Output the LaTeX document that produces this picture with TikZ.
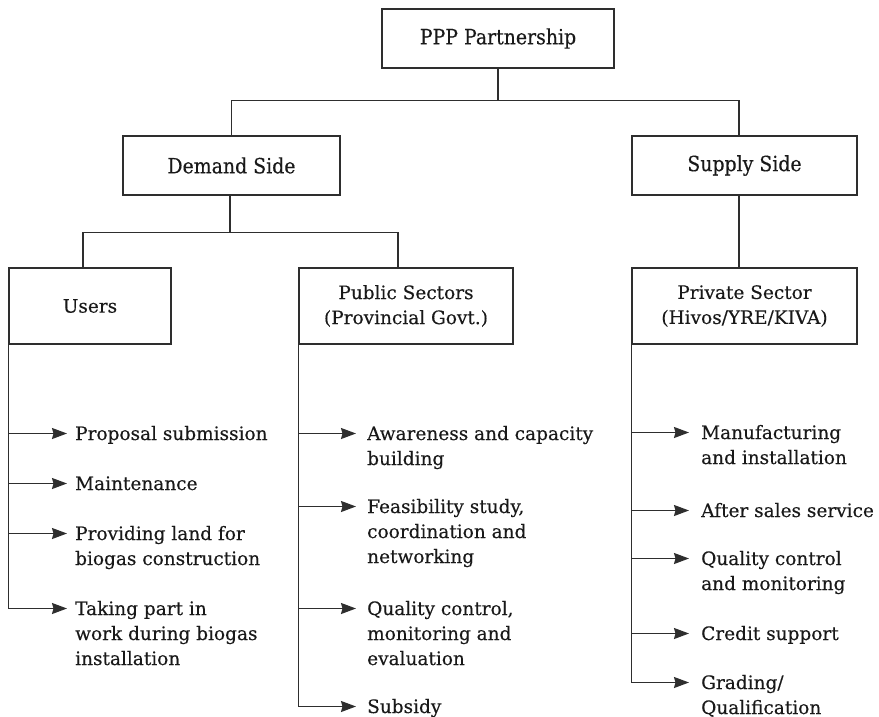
\documentclass[tikz,border=0pt]{standalone}
\usepackage{fontspec}
\setmainfont[FakeBold=0.3]{DejaVu Serif}
\newfontfamily\condfont[FakeStretch=0.9,FakeBold=0.3]{DejaVu Serif}
\usetikzlibrary{arrows.meta,calc}
\newcommand{\ml}[1]{\begin{tabular}[t]{@{}l@{}}#1\end{tabular}}
\begin{document}
\begin{tikzpicture}[x=1pt,y=-1pt,
  line/.style={draw=black!82, line width=1.4pt},
  topbox/.style={line, minimum height=59pt, inner sep=0pt, font=\condfont\fontsize{21}{25}\selectfont, text=black!90},
  subbox/.style={line, minimum height=76pt, inner sep=0pt, align=center, font=\fontsize{18.5}{25}\selectfont, text=black!90},
  item/.style={anchor=base west, inner sep=0pt, font=\fontsize{18.5}{25}\selectfont, text=black!90},
  arr/.style={line, -{Stealth[length=15pt,width=11pt,inset=1.5pt]}}
]
\useasboundingbox (0,0) rectangle (879,717);

% boxes
\node[topbox, minimum width=232pt] (ppp) at (498,38.5) {PPP Partnership};
\node[topbox, minimum width=217pt] (dem) at (231.5,165.5) {Demand Side};
\node[topbox, minimum width=225pt] (sup) at (744.5,165.5) {Supply Side};
\node[subbox, minimum width=162pt] (usr) at (90,306) {Users};
\node[subbox, minimum width=214pt] (pub) at (406,306) {Public Sectors\\(Provincial Govt.)};
\node[subbox, minimum width=225pt] (pri) at (744.5,306) {Private Sector\\(Hivos/YRE/KIVA)};

% tree connectors
\coordinate (j1) at ($(ppp.south)+(0,32)$);
\draw[line] (ppp.south) -- (j1);
\draw[line] (dem.north) |- (j1) -| ([xshift=-5.5pt]sup.north);
\coordinate (j2) at ($(dem.south)+(-1.5,37)$);
\draw[line] ([xshift=-1.5pt]dem.south) -- (j2);
\draw[line] ([xshift=-7pt]usr.north) |- (j2) -| ([xshift=-8pt]pub.north);
\draw[line] ([xshift=-5.5pt]sup.south) -- ([xshift=-5.5pt]pri.north);

% Users items
\node[item] (u1) at (75,440) {Proposal submission};
\node[item] (u2) at (75,490) {Maintenance};
\node[item] (u3) at (75,540) {\ml{Providing land for\\biogas construction}};
\node[item] (u4) at (75,615) {\ml{Taking part in\\work during biogas\\installation}};
\foreach \n in {u1,u2,u3,u4}{\coordinate (\n t) at ($(\n.base west)+(-8,-6.5)$);}
\draw[arr] (usr.south west) |- (u4t);
\foreach \n in {u1,u2,u3}{\draw[arr] (usr.south west |- \n t) -- (\n t);}

% Public items
\node[item] (p1) at (367,440) {\ml{Awareness and capacity\\building}};
\node[item] (p2) at (367,513) {\ml{Feasibility study,\\coordination and\\networking}};
\node[item] (p3) at (367,615) {\ml{Quality control,\\monitoring and\\evaluation}};
\node[item] (p4) at (367,713) {Subsidy};
\foreach \n in {p1,p2,p3,p4}{\coordinate (\n t) at ($(\n.base west)+(-11,-6.5)$);}
\draw[arr] (pub.south west) |- (p4t);
\foreach \n in {p1,p2,p3}{\draw[arr] (pub.south west |- \n t) -- (\n t);}

% Private items
\node[item] (r1) at (701,439) {\ml{Manufacturing\\and installation}};
\node[item] (r2) at (701,517) {After sales service};
\node[item] (r3) at (701,565) {\ml{Quality control\\and monitoring}};
\node[item] (r4) at (701,640) {Credit support};
\node[item] (r5) at (701,689) {\ml{Grading/\\Qualification}};
\foreach \n in {r1,r2,r3,r4,r5}{\coordinate (\n t) at ($(\n.base west)+(-12,-6.5)$);}
\draw[arr] (pri.south west) |- (r5t);
\foreach \n in {r1,r2,r3,r4}{\draw[arr] (pri.south west |- \n t) -- (\n t);}
\end{tikzpicture}
\end{document}
